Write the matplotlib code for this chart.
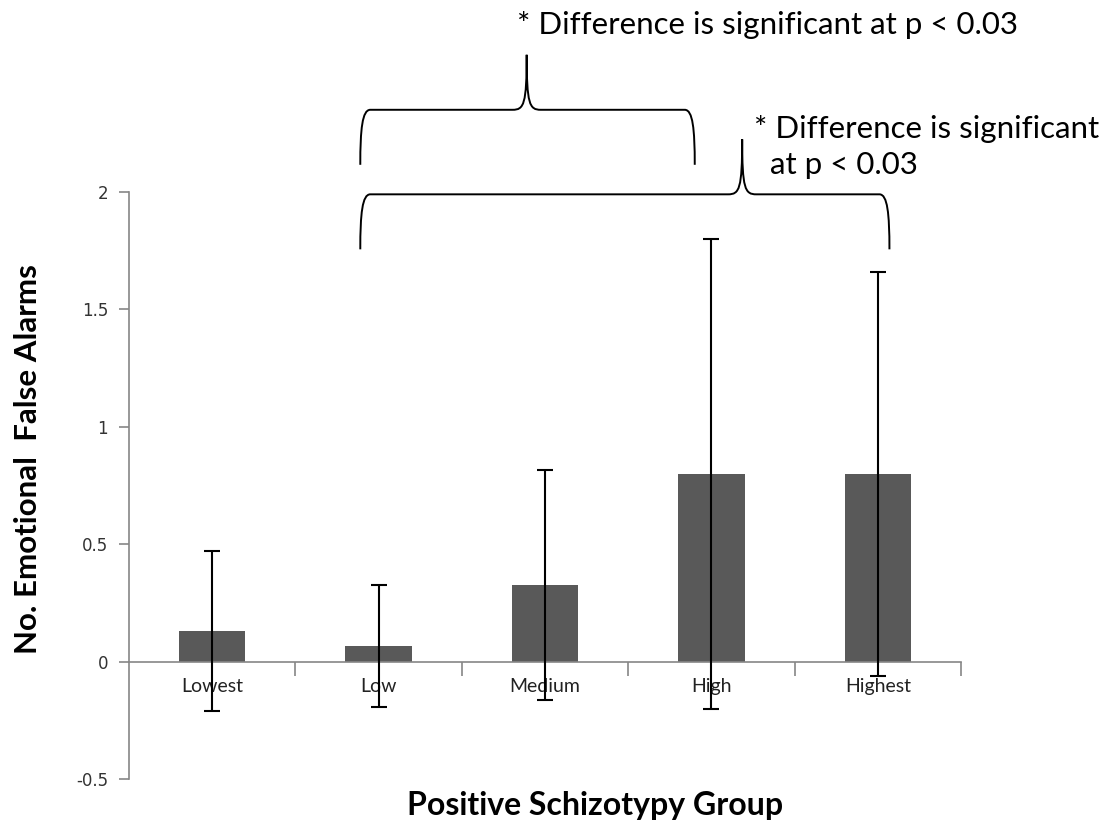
import matplotlib
matplotlib.use("Agg")
import matplotlib.pyplot as plt
from matplotlib.path import Path
from matplotlib.patches import PathPatch
from matplotlib.ticker import FixedLocator

# data
groups = ["Lowest", "Low", "Medium", "High", "Highest"]
means = [0.13, 0.065, 0.325, 0.80, 0.80]
errors = [0.34, 0.26, 0.49, 1.00, 0.86]

# significance braces: (left, right, tip, line level)
brace_spans = [(0.89, 2.90, 1.89, 2.35), (0.89, 4.07, 3.185, 1.99)]
note_1 = "* Difference is significant at p < 0.03"
note_2 = "* Difference is significant\n  at p < 0.03"

AXIS_GRAY = "#868686"
BAR_GRAY = "#595959"


def draw_brace(ax, x0, x1, xt, y_line):
    # sizes in pixels converted to data units
    px = 5.0 / 832
    py = 2.5 / 587
    drop = 55 * py
    rise = 55 * py
    rx = 10 * px
    rt = 14 * px
    yb = y_line - drop
    yt = y_line + rise
    verts = [
        (x0, yb),
        (x0, y_line - 0.35 * drop), (x0 + 0.2 * rx, y_line), (x0 + rx, y_line),
        (xt - rt, y_line),
        (xt - 0.2 * rt, y_line), (xt, y_line + 0.1 * rise), (xt, yt),
        (xt, y_line + 0.1 * rise), (xt + 0.2 * rt, y_line), (xt + rt, y_line),
        (x1 - rx, y_line),
        (x1 - 0.2 * rx, y_line), (x1, y_line - 0.35 * drop), (x1, yb),
    ]
    codes = [Path.MOVETO,
             Path.CURVE4, Path.CURVE4, Path.CURVE4,
             Path.LINETO,
             Path.CURVE4, Path.CURVE4, Path.CURVE4,
             Path.CURVE4, Path.CURVE4, Path.CURVE4,
             Path.LINETO,
             Path.CURVE4, Path.CURVE4, Path.CURVE4]
    patch = PathPatch(Path(verts, codes), facecolor="none", edgecolor="black",
                      lw=1.4, clip_on=False)
    ax.add_patch(patch)


fig = plt.figure(figsize=(11.12, 8.30), dpi=100)
ax = fig.add_axes([0.1160, 0.0614, 0.7482, 0.7073])

x = list(range(len(groups)))
ax.bar(x, means, width=0.4, color=BAR_GRAY, zorder=2)
ax.errorbar(x, means, yerr=errors, fmt="none", ecolor="black", elinewidth=1.5,
            capsize=6, capthick=1.5, zorder=3)

ax.set_xlim(-0.5, 4.5)
ax.set_ylim(-0.5, 2.0)

ax.spines[["top", "right"]].set_visible(False)
ax.spines["bottom"].set_position(("data", 0))
for s in ("left", "bottom"):
    ax.spines[s].set_color(AXIS_GRAY)
    ax.spines[s].set_linewidth(1.2)

ax.set_yticks([-0.5, 0, 0.5, 1, 1.5, 2])
ax.set_yticklabels(["-0.5", "0", "0.5", "1", "1.5", "2"],
                   fontfamily="DejaVu Sans", fontsize=12, color="#333333")
ax.tick_params(axis="y", direction="out", length=7, width=1.2, color=AXIS_GRAY, pad=8)

ax.set_xticks(x)
ax.set_xticklabels(groups, fontfamily="Lato", fontsize=14, color="#222222")
ax.tick_params(axis="x", which="major", length=0, pad=12)
ax.xaxis.set_minor_locator(FixedLocator([0.5, 1.5, 2.5, 3.5, 4.5]))
ax.tick_params(axis="x", which="minor", direction="out", length=10, width=1.2,
               color=AXIS_GRAY)

ax.set_ylabel("No. Emotional  False Alarms", fontfamily="Lato", fontweight="bold",
              fontsize=22.5)
ax.yaxis.set_label_coords(-0.104, 0.545)
fig.text(0.535, 0.03, "Positive Schizotypy Group", fontfamily="Lato",
         fontweight="bold", fontsize=23, ha="center", va="center")

for x0, x1, xt, yl in brace_spans:
    draw_brace(ax, x0, x1, xt, yl)

fig.text(0.465, 0.97, note_1, fontfamily="Lato", fontsize=22.5, ha="left", va="center")
fig.text(0.678, 0.823, note_2, fontfamily="Lato", fontsize=22.5, ha="left", va="center",
         linespacing=1.35)

fig.savefig("out.png", dpi=100)
